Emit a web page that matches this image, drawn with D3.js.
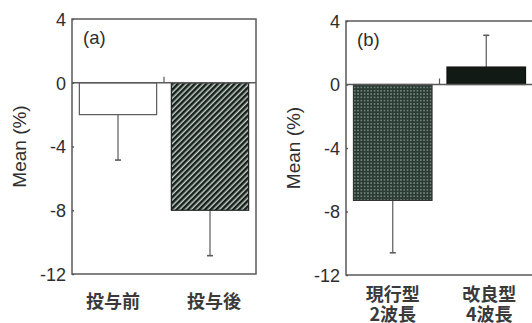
<!DOCTYPE html>
<html><head><meta charset="utf-8">
<script src="https://cdn.jsdelivr.net/npm/d3@7"></script>
<style>body{margin:0;background:#fff}svg{display:block}</style>
</head><body>
<svg id="c" width="532" height="323"></svg>
<script>
const yTicks = [4, 0, -4, -8, -12];
const catsA = [["投与前"], ["投与後"]];
const meanA = [-2.0, -8.0];
const errA = [-4.85, -10.85];
const catsB = [["現行型", "2波長"], ["改良型", "4波長"]];
const meanB = [-7.3, 1.1];
const errB = [-10.6, 3.1];

const svg = d3.select("#c");
const defs = svg.append("defs");
const hatch = defs.append("pattern").attr("id","hatch").attr("patternUnits","userSpaceOnUse")
  .attr("width",4).attr("height",4).attr("patternTransform","rotate(45)");
hatch.append("rect").attr("width",4).attr("height",4).attr("fill","#c4ccc6");
hatch.append("rect").attr("width",2.5).attr("height",4).attr("fill","#15201a");
const dots = defs.append("pattern").attr("id","dots").attr("patternUnits","userSpaceOnUse")
  .attr("width",3.3).attr("height",3.3);
dots.append("rect").attr("width",3.3).attr("height",3.3).attr("fill","#2a3b33");
dots.append("rect").attr("x",0.9).attr("y",0.9).attr("width",1.5).attr("height",1.5).attr("fill","#7f9088");

const lineCol = "#5a5a5a";
const numFont = "'Liberation Sans', Arial, sans-serif";
const cjkFont = "'Noto Sans CJK JP', sans-serif";

function panel(o) {
  const g = svg.append("g");
  const y = d3.scaleLinear().domain([-12, 4]).range([o.bottom, o.top]);
  const x = d3.scaleBand().domain(o.cats.map((c,i)=>i)).range([o.left, o.right])
    .paddingInner(0.16).paddingOuter(0.08);
  g.append("rect").attr("x",o.left).attr("y",o.top).attr("width",o.right-o.left)
    .attr("height",o.bottom-o.top).attr("fill","none").attr("stroke",lineCol).attr("stroke-width",1.5);
  const ax = g.append("g").attr("transform",`translate(${o.left},0)`)
    .call(d3.axisLeft(y).tickValues(yTicks).tickFormat(d => String(d)).tickSize(3).tickPadding(3).tickSizeOuter(0));
  ax.select(".domain").remove();
  ax.selectAll(".tick line").attr("stroke",lineCol).attr("stroke-width",1.3).attr("x2",2);
  ax.selectAll(".tick text").attr("font-family",numFont).attr("font-size",18).attr("fill","#2e2e2e")
    .attr("dy","0.36em");
  o.vals.forEach((v,i)=>{
    const y0 = y(Math.max(0,v)), y1 = y(Math.min(0,v));
    const cx = x(i) + x.bandwidth()/2;
    g.append("line").attr("x1",cx).attr("x2",cx).attr("y1",y(v)).attr("y2",y(o.errs[i]))
      .attr("stroke",lineCol).attr("stroke-width",1.2);
    g.append("line").attr("x1",cx-3).attr("x2",cx+3).attr("y1",y(o.errs[i])).attr("y2",y(o.errs[i]))
      .attr("stroke",lineCol).attr("stroke-width",1.6);
    g.append("rect").attr("x",x(i)).attr("y",y0).attr("width",x.bandwidth()).attr("height",y1-y0)
      .attr("fill",o.fills[i]).attr("stroke",o.strokes[i]).attr("stroke-width",1.2);
    o.cats[i].forEach((t,k)=>{
      g.append("text").attr("x",cx + o.ldx[i]).attr("y",o.labelY + k*20).attr("text-anchor","middle")
        .attr("font-family",cjkFont).attr("font-weight","bold").attr("font-size",18)
        .attr("fill","#3a3a3a").text(t);
    });
  });
  g.append("line").attr("x1",o.left).attr("x2",o.right).attr("y1",y(0)).attr("y2",y(0))
    .attr("stroke",lineCol).attr("stroke-width",1.5);
  const mid = (o.left+o.right)/2;
  g.append("line").attr("x1",mid).attr("x2",mid).attr("y1",y(0)).attr("y2",y(0)-6)
    .attr("stroke",lineCol).attr("stroke-width",1.2);
  g.append("text").attr("x",o.left+11).attr("y",o.top+25).attr("font-family",numFont)
    .attr("font-size",18.5).attr("fill","#2e2e2e").text(o.tag);
  g.append("text").attr("transform",`translate(${o.left-46},${(o.top+o.bottom)/2}) rotate(-90)`)
    .attr("text-anchor","middle").attr("font-family",numFont).attr("font-size",19)
    .attr("fill","#2e2e2e").text("Mean (%)");
}

panel({left:72, right:256, top:19, bottom:274, cats:catsA, vals:meanA, errs:errA,
  fills:["#fff","url(#hatch)"], strokes:[lineCol,"#222"], tag:"(a)", labelY:308, ldx:[-5,4]});
panel({left:346, right:533, top:21, bottom:275, cats:catsB, vals:meanB, errs:errB,
  fills:["url(#dots)","#111a15"], strokes:["#333","#111"], tag:"(b)", labelY:301, ldx:[0,3]});
</script>
</body></html>
